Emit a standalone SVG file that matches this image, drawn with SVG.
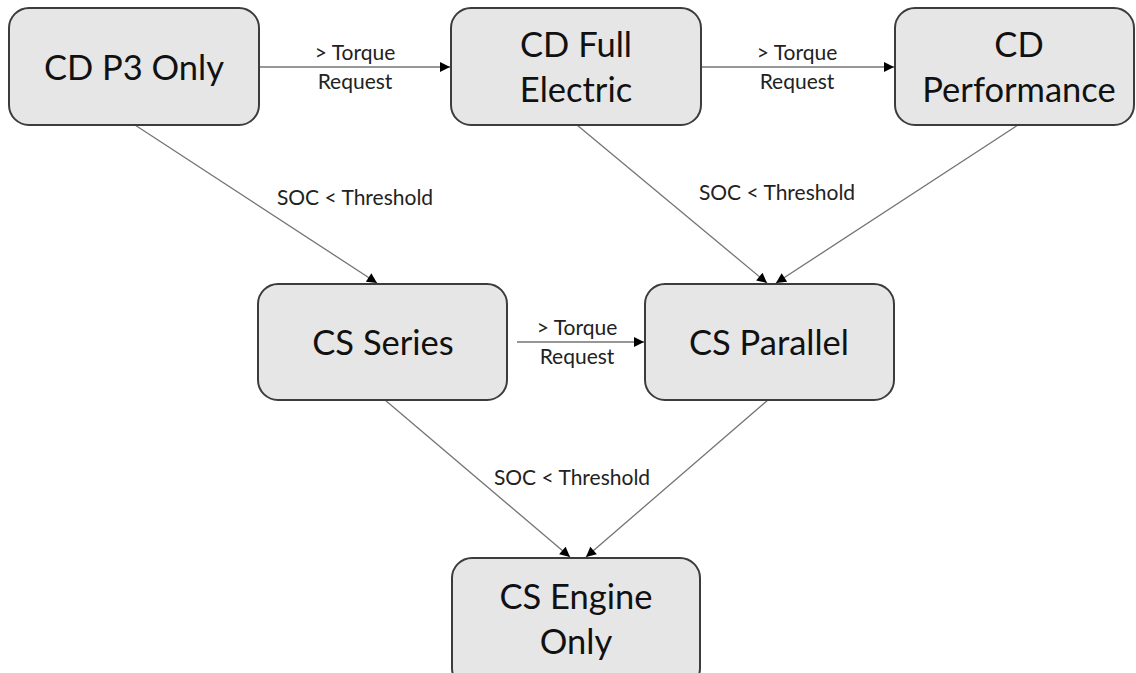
<svg xmlns="http://www.w3.org/2000/svg" width="1136" height="673" viewBox="0 0 1136 673">
<defs>
<style>
.box{fill:#e6e6e6;stroke:#3c3c3c;stroke-width:2}
.nt{font-family:Lato,"Open Sans",sans-serif;font-size:34.5px;fill:#111;text-anchor:middle}
.lt{font-family:Lato,"Open Sans",sans-serif;font-size:21px;fill:#222;text-anchor:middle}
.edge{stroke:#747474;stroke-width:1.3;fill:none;marker-end:url(#ah)}
</style>
<marker id="ah" viewBox="0 0 10 10" refX="10" refY="5" markerWidth="11" markerHeight="10" markerUnits="userSpaceOnUse" orient="auto">
<path d="M0,0 L10,5 L0,10 Z" fill="#000"/>
</marker>
</defs>
<rect width="1136" height="673" fill="#fff"/>
<g id="connectors">
<line class="edge" x1="260" y1="67" x2="450" y2="67"/>
<line class="edge" x1="701" y1="67" x2="894" y2="67"/>
<line class="edge" x1="135" y1="125" x2="377" y2="283"/>
<line class="edge" x1="577" y1="125" x2="767" y2="283"/>
<line class="edge" x1="1018" y1="125" x2="776" y2="283"/>
<line class="edge" x1="517" y1="342" x2="644" y2="342"/>
<line class="edge" x1="385" y1="400" x2="570" y2="557"/>
<line class="edge" x1="768" y1="400" x2="586" y2="557"/>
<text class="lt" x="355" y="60">&gt; Torque</text>
<text class="lt" x="355" y="89">Request</text>
<text class="lt" x="797" y="60">&gt; Torque</text>
<text class="lt" x="797" y="89">Request</text>
<text class="lt" x="577" y="335">&gt; Torque</text>
<text class="lt" x="577" y="364">Request</text>
<text class="lt" x="355" y="205">SOC &lt; Threshold</text>
<text class="lt" x="777" y="200">SOC &lt; Threshold</text>
<text class="lt" x="572" y="485">SOC &lt; Threshold</text>
</g>
<g id="n-cdp3">
<rect class="box" x="9" y="8" width="250" height="117" rx="20"/>
<text class="nt" x="134" y="80">CD P3 Only</text>
</g>
<g id="n-cdfull">
<rect class="box" x="451" y="8" width="250" height="117" rx="20"/>
<text class="nt" x="576" y="57">CD Full</text>
<text class="nt" x="576" y="102">Electric</text>
</g>
<g id="n-cdperf">
<rect class="box" x="895" y="8" width="239" height="117" rx="20"/>
<text class="nt" x="1019" y="57">CD</text>
<text class="nt" x="1019" y="102">Performance</text>
</g>
<g id="n-csseries">
<rect class="box" x="258" y="284" width="249" height="116" rx="20"/>
<text class="nt" x="383" y="355">CS Series</text>
</g>
<g id="n-csparallel">
<rect class="box" x="645" y="284" width="249" height="116" rx="20"/>
<text class="nt" x="769" y="355">CS Parallel</text>
</g>
<g id="n-csengine">
<rect class="box" x="452" y="558" width="248" height="130" rx="20"/>
<text class="nt" x="576" y="609">CS Engine</text>
<text class="nt" x="576" y="654">Only</text>
</g>
</svg>
